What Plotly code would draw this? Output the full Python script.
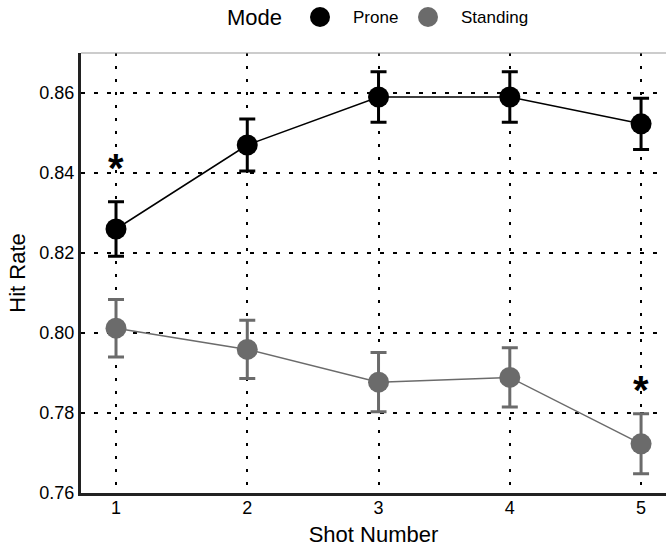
import plotly.graph_objects as go

shots = [1, 2, 3, 4, 5]
prone_mean = [0.826, 0.847, 0.859, 0.859, 0.8523]
prone_err = [0.0068, 0.0065, 0.0063, 0.0063, 0.0064]
standing_mean = [0.8012, 0.7959, 0.7877, 0.7889, 0.7723]
standing_err = [0.0072, 0.0073, 0.0074, 0.0074, 0.0075]
sig_x = [1, 5]
sig_y = [0.8425, 0.787]
y_ticks = [0.76, 0.78, 0.80, 0.82, 0.84, 0.86]
series_names = ["Prone", "Standing"]

FONT = "Liberation Sans, Arial, sans-serif"
GRAY = "#6b6b6b"
colors = ["black", GRAY]

fig = go.Figure()
for name, mean, err, col in zip(series_names, [prone_mean, standing_mean],
                                [prone_err, standing_err], colors):
    fig.add_trace(go.Scatter(
        x=shots, y=mean, name=name, mode="lines+markers", showlegend=False,
        line=dict(color=col, width=1.5),
        marker=dict(color=col, size=21),
        error_y=dict(type="data", array=err, color=col, thickness=3, width=8),
        hoverinfo="skip",
    ))

for sx, sy in zip(sig_x, sig_y):
    fig.add_annotation(x=sx, y=sy, text="<b>*</b>", showarrow=False,
                       font=dict(family=FONT, size=40, color="black"),
                       xanchor="center", yanchor="middle", yshift=-5)

# top frame line
fig.add_shape(type="line", xref="paper", yref="paper", x0=0, x1=1, y0=1, y1=1,
              line=dict(color="#999999", width=1))

# manual legend (plot area: x 81..666, y 53..493 px)
L, W, B, H = 81, 585, 493, 440
def px(x):
    return (x - L) / W
def py(y):
    return (B - y) / H

leg_y = 17
fig.add_annotation(xref="paper", yref="paper", x=px(225), y=py(leg_y), text="Mode",
                   showarrow=False, xanchor="left", yanchor="middle",
                   font=dict(family=FONT, size=22, color="black"))
for name, col, cx, tx in zip(series_names, colors, [320, 428], [351, 459]):
    fig.add_shape(type="circle", xref="paper", yref="paper",
                  xsizemode="pixel", ysizemode="pixel",
                  xanchor=px(cx), yanchor=py(leg_y),
                  x0=-10, x1=10, y0=-10, y1=10,
                  fillcolor=col, line=dict(color=col, width=0))
    fig.add_annotation(xref="paper", yref="paper", x=px(tx), y=py(leg_y), text=name,
                       showarrow=False, xanchor="left", yanchor="middle",
                       font=dict(family=FONT, size=17, color="black"))

fig.update_layout(
    width=666, height=547,
    margin=dict(l=81, r=0, t=53, b=54, autoexpand=False),
    paper_bgcolor="white", plot_bgcolor="white",
    font=dict(family=FONT, color="black"),
    showlegend=False,
    xaxis=dict(
        range=[0.7333, 5.19], tickvals=shots,
        title=dict(text="Shot Number", font=dict(size=22), standoff=10),
        tickfont=dict(size=18), ticks="", ticklabelstandoff=-3,
        showgrid=True, gridcolor="black", gridwidth=2, griddash="3px,10px",
        showline=True, linecolor="#222222", linewidth=2.5,
        zeroline=False,
    ),
    yaxis=dict(
        range=[0.76, 0.87], tickvals=y_ticks, tickformat=".2f",
        title=dict(text="Hit Rate", font=dict(size=22), standoff=8),
        tickfont=dict(size=18), ticks="",
        showgrid=True, gridcolor="black", gridwidth=2, griddash="4px,9px",
        showline=True, linecolor="#222222", linewidth=3,
        zeroline=False,
    ),
)

fig.write_html("out.html", config={"displayModeBar": False},
               post_script="document.body.style.margin='0';document.body.style.overflow='hidden';")
